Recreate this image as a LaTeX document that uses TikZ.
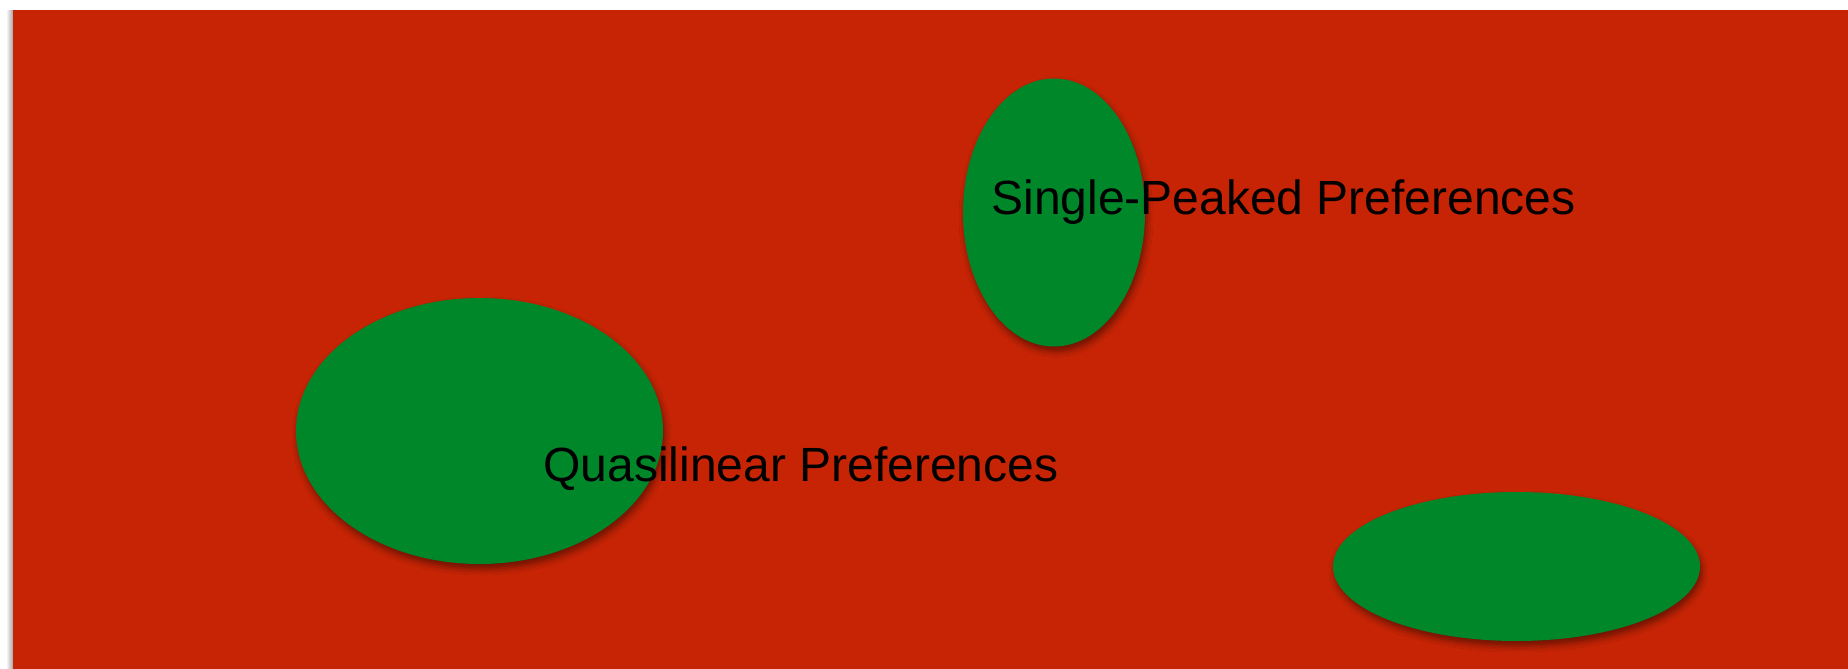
\documentclass[tikz,border=0pt]{standalone}
\usepackage{fontspec}
\setmainfont{Liberation Sans}
\usetikzlibrary{shapes.geometric,shadows.blur}
\definecolor{bgred}{RGB}{198,36,5}
\definecolor{blobgreen}{RGB}{0,135,42}
\tikzset{
  blob/.style={ellipse, fill=blobgreen, inner sep=0pt, draw=none,
    blur shadow={shadow xshift=1pt, shadow yshift=-2.5pt, shadow opacity=45, shadow blur radius=3pt}},
  lbl/.style={anchor=base west, inner sep=0pt, text=black, font=\fontsize{24}{28}\selectfont}
}
\begin{document}
\begin{tikzpicture}[x=0.5pt,y=-0.5pt]
\useasboundingbox (0,0) rectangle (1848,669);
\fill[white] (0,0) rectangle (1848,669);
\shade[left color=white, right color=black!35] (6,10) rectangle (13,669);
\fill[bgred] (13,10) rectangle (1848,669);
\node[blob, minimum width=91pt, minimum height=134pt] (sp) at (1054,212.5) {};
\node[blob, minimum width=183.5pt, minimum height=133pt] (ql) at (479.5,431) {};
\node[blob, minimum width=183.5pt, minimum height=74.5pt] (third) at (1516.5,566.5) {};
\node[lbl] (sptext) at (991,214) {Single-Peaked Preferences};
\node[lbl] (qltext) at (543,481) {Quasilinear Preferences};
\end{tikzpicture}
\end{document}
